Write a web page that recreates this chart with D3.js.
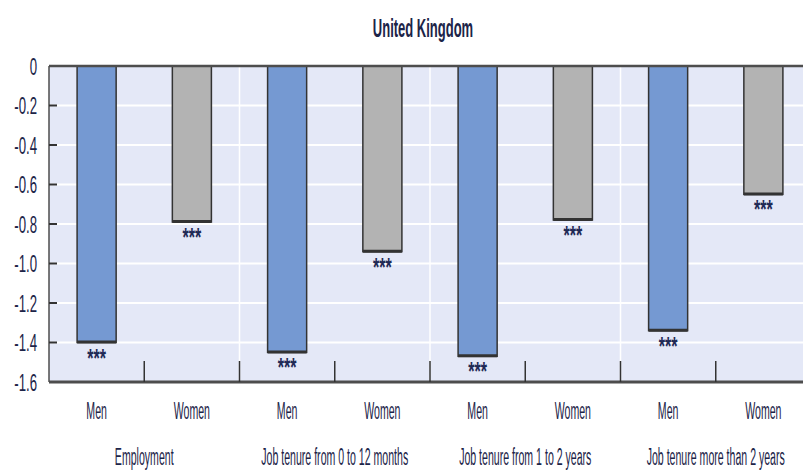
<!DOCTYPE html>
<html>
<head>
<meta charset="utf-8">
<script src="https://cdn.jsdelivr.net/npm/d3@7"></script>
<style>
  html, body { margin: 0; padding: 0; background: #ffffff; }
  svg { display: block; }
  text { font-family: "Liberation Sans", Arial, sans-serif; }
</style>
</head>
<body>
<svg id="chart" width="803" height="471"></svg>
<script>
// ---- data ----
const title = "United Kingdom";
const groups = ["Employment", "Job tenure from 0 to 12 months", "Job tenure from 1 to 2 years", "Job tenure more than 2 years"];
const sexes = ["Men", "Women"];
const menValues = [-1.40, -1.45, -1.47, -1.34];
const womenValues = [-0.79, -0.94, -0.78, -0.65];
const menSignif = ["***", "***", "***", "***"];
const womenSignif = ["***", "***", "***", "***"];
const yTicks = [0, -0.2, -0.4, -0.6, -0.8, -1.0, -1.2, -1.4, -1.6];

// ---- layout ----
const svg = d3.select("#chart");
const plotLeft = 49, plotRight = 811, plotTop = 66, plotBottom = 382;

const rows = [];
groups.forEach((g, gi) => {
  rows.push({ key: gi + "-Men", group: g, sex: sexes[0], value: menValues[gi], sig: menSignif[gi] });
  rows.push({ key: gi + "-Women", group: g, sex: sexes[1], value: womenValues[gi], sig: womenSignif[gi] });
});

const x = d3.scaleBand().domain(rows.map(d => d.key)).range([plotLeft, plotRight]).paddingInner(0).paddingOuter(0);
const xg = d3.scaleBand().domain(groups).range([plotLeft, plotRight]);
const y = d3.scaleLinear().domain([0, -1.6]).range([plotTop, plotBottom]);
const barW = x.bandwidth() * 0.41;

// background
svg.append("rect").attr("x", plotLeft).attr("y", plotTop).attr("width", plotRight - plotLeft).attr("height", plotBottom - plotTop)
  .attr("fill", "#e4e8f7");

// white gridlines (horizontal)
svg.append("g").selectAll("line").data(yTicks.filter(t => t !== 0 && t !== -1.6)).join("line")
  .attr("x1", plotLeft).attr("x2", plotRight)
  .attr("y1", d => y(d)).attr("y2", d => y(d))
  .attr("stroke", "#ffffff").attr("stroke-width", 2);

// white vertical separators between groups
svg.append("g").selectAll("line").data(groups.slice(1)).join("line")
  .attr("x1", d => xg(d)).attr("x2", d => xg(d))
  .attr("y1", plotTop).attr("y2", plotBottom)
  .attr("stroke", "#ffffff").attr("stroke-width", 1.5);

// bars
const barG = svg.append("g");
barG.selectAll("rect").data(rows).join("rect")
  .attr("x", d => x(d.key) + (x.bandwidth() - barW) / 2)
  .attr("y", d => y(0))
  .attr("width", barW)
  .attr("height", d => y(d.value) - y(0))
  .attr("fill", d => d.sex === "Men" ? "#7599d2" : "#b3b3b3")
  .attr("stroke", "#333333").attr("stroke-width", 1.5);
// thicker bottom edge
barG.selectAll("line").data(rows).join("line")
  .attr("x1", d => x(d.key) + (x.bandwidth() - barW) / 2)
  .attr("x2", d => x(d.key) + (x.bandwidth() + barW) / 2)
  .attr("y1", d => y(d.value) - 0.5).attr("y2", d => y(d.value) - 0.5)
  .attr("stroke", "#333333").attr("stroke-width", 3);

// significance stars
svg.append("g").selectAll("text").data(rows).join("text")
  .attr("transform", d => `translate(${x(d.key) + x.bandwidth() / 2},${y(d.value) + 24}) scale(0.62,1)`)
  .attr("text-anchor", "middle")
  .attr("font-size", 26)
  .attr("font-weight", "bold")
  .attr("fill", "#1f2a55")
  .text(d => d.sig);

// frame
svg.append("line").attr("x1", plotLeft).attr("x2", plotRight).attr("y1", plotTop).attr("y2", plotTop)
  .attr("stroke", "#4d4d4d").attr("stroke-width", 2.5);
svg.append("line").attr("x1", plotLeft).attr("x2", plotRight).attr("y1", plotBottom).attr("y2", plotBottom)
  .attr("stroke", "#4d4d4d").attr("stroke-width", 3);
svg.append("line").attr("x1", plotLeft).attr("x2", plotLeft).attr("y1", plotTop).attr("y2", plotBottom)
  .attr("stroke", "#4d4d4d").attr("stroke-width", 1.5);

// y ticks (inside)
svg.append("g").selectAll("line").data(yTicks.filter(t => t !== 0 && t !== -1.6)).join("line")
  .attr("x1", plotLeft).attr("x2", plotLeft + 8)
  .attr("y1", d => y(d)).attr("y2", d => y(d))
  .attr("stroke", "#333333").attr("stroke-width", 2);

// y tick labels
const fmt = d => d === 0 ? "0" : d.toFixed(1);
svg.append("g").selectAll("text").data(yTicks).join("text")
  .attr("transform", d => `translate(37,${y(d) + 8.5}) scale(0.55,1)`)
  .attr("text-anchor", "end")
  .attr("font-size", 24)
  .attr("fill", "#1c2448")
  .text(fmt);

// x category boundary ticks
svg.append("g").selectAll("line").data(rows.slice(1)).join("line")
  .attr("x1", d => x(d.key)).attr("x2", d => x(d.key))
  .attr("y1", plotBottom - 21).attr("y2", plotBottom)
  .attr("stroke", "#333333").attr("stroke-width", 1.5);

// sex labels
svg.append("g").selectAll("text").data(rows).join("text")
  .attr("transform", d => `translate(${x(d.key) + x.bandwidth() / 2},419) scale(0.46,1)`)
  .attr("text-anchor", "middle")
  .attr("font-size", 23)
  .attr("fill", "#1c2448")
  .text(d => d.sex);

// group labels
svg.append("g").selectAll("text").data(groups).join("text")
  .attr("transform", d => `translate(${xg(d) + xg.bandwidth() / 2},465) scale(0.46,1)`)
  .attr("text-anchor", "middle")
  .attr("font-size", 23)
  .attr("fill", "#1c2448")
  .text(d => d);

// title
svg.append("text")
  .attr("transform", "translate(423,37) scale(0.5,1)")
  .attr("text-anchor", "middle")
  .attr("font-size", 26)
  .attr("font-weight", "bold")
  .attr("fill", "#1c2448")
  .text(title);
</script>
</body>
</html>
